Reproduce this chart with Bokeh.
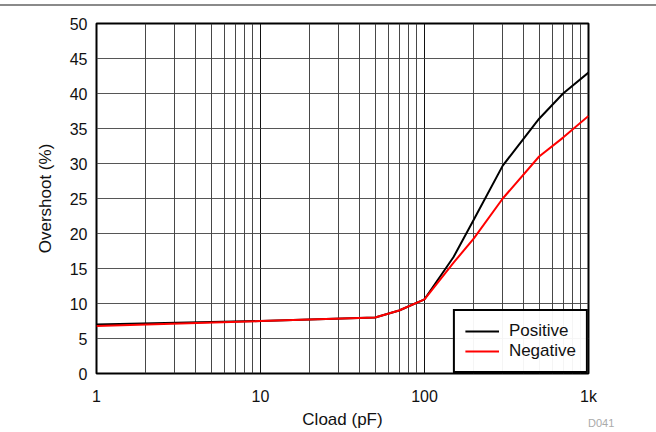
from bokeh.plotting import figure
from bokeh.models import FixedTicker, Legend, LegendItem, Div, Range1d, PrintfTickFormatter
from bokeh.layouts import column
from bokeh.embed import file_html
from bokeh.resources import INLINE

cload = [1, 10, 50, 70, 100, 150, 200, 300, 500, 700, 1000]
positive = [7.0, 7.5, 8.0, 9.0, 10.6, 16.6, 22.0, 29.7, 36.4, 40.0, 43.0]
negative = [6.8, 7.5, 8.0, 9.0, 10.6, 15.8, 19.3, 25.0, 31.0, 33.7, 36.8]

x_major = [1, 10, 100, 1000]
x_minor = [m * d for d in (1, 10, 100) for m in range(2, 10)]
y_ticks = list(range(0, 51, 5))

FONT = "Liberation Sans"

p = figure(width=656, height=426, x_axis_type="log", output_backend="svg",
           toolbar_location=None, x_range=Range1d(1, 1000), y_range=Range1d(0, 50),
           min_border_left=96, min_border_right=68, min_border_top=17, min_border_bottom=59,
           margin=0)

p.xaxis.ticker = FixedTicker(ticks=x_major, minor_ticks=x_minor)
p.yaxis.ticker = FixedTicker(ticks=y_ticks)
p.xaxis.formatter = PrintfTickFormatter(format="%d")
p.xaxis.major_label_overrides = {1000: "1k"}

for ax in (p.xaxis, p.yaxis):
    ax.major_tick_line_color = None
    ax.minor_tick_line_color = None
    ax.major_tick_out = 0
    ax.minor_tick_out = 0
    ax.major_tick_in = 0
    ax.minor_tick_in = 0
    ax.axis_line_color = None
    ax.major_label_text_font = FONT
    ax.major_label_text_font_size = "16px"
    ax.major_label_text_color = "#111111"
    ax.axis_label_text_font = FONT
    ax.axis_label_text_font_size = "17px"
    ax.axis_label_text_font_style = "normal"
    ax.axis_label_text_color = "#111111"

p.xaxis.axis_label = "Cload (pF)"
p.yaxis.axis_label = "Overshoot (%)"
p.xaxis.major_label_standoff = 14
p.yaxis.major_label_standoff = 9
p.xaxis.axis_label_standoff = 2
p.yaxis.axis_label_standoff = 12

p.xgrid.grid_line_color = "#111111"
p.xgrid.grid_line_alpha = 1
p.xgrid.minor_grid_line_color = "#333333"
p.xgrid.minor_grid_line_alpha = 0.9
p.ygrid.grid_line_color = "#444444"
p.ygrid.grid_line_alpha = 0.9

p.outline_line_color = "black"
p.outline_line_width = 2
p.outline_line_alpha = 1

r1 = p.line(cload, positive, line_color="black", line_width=2)
r2 = p.line(cload, negative, line_color="red", line_width=2)

legend = Legend(items=[LegendItem(label="Positive", renderers=[r1]),
                       LegendItem(label="Negative", renderers=[r2])],
                location="bottom_right")
legend.label_text_font = FONT
legend.label_text_font_size = "17px"
legend.label_text_color = "#111111"
legend.border_line_color = "black"
legend.border_line_width = 2
legend.border_line_alpha = 1
legend.margin = 0
legend.padding = 10
legend.spacing = 0
legend.glyph_width = 34
legend.label_standoff = 10
legend.label_height = 20
legend.glyph_height = 20
p.add_layout(legend, "center")

rule = Div(text="", width=656, height=6, margin=0,
           styles={"border-bottom": "2px solid #8a8a8a", "box-sizing": "border-box"})
tag = Div(text="D041", width=40, height=14, margin=(-16, 0, 0, 588),
          styles={"color": "#aaaaaa", "font-family": FONT, "font-size": "11px",
                  "line-height": "14px", "position": "relative", "z-index": "10"})
layout = column(rule, p, tag, spacing=0, margin=0)

open("out.html", "w").write(file_html(layout, INLINE))
